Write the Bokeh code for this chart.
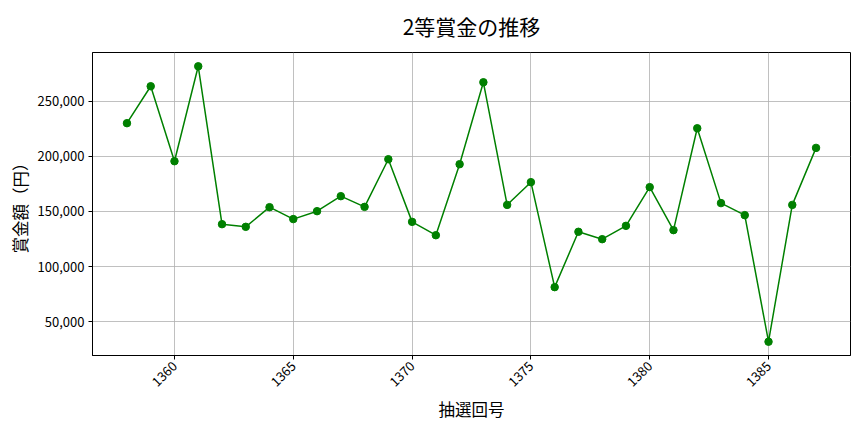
import math
from bokeh.plotting import figure
from bokeh.models import ColumnDataSource, NumeralTickFormatter, FixedTicker, Range1d
from bokeh.embed import file_html
from bokeh.resources import INLINE

draws = list(range(1358, 1388))
prizes = [230100, 263600, 195600, 281700, 138500, 136100, 153900, 143100, 150300, 163900,
          154200, 197400, 140600, 128500, 192900, 267200, 156000, 176600, 81400, 131600,
          124900, 137000, 172100, 133100, 225500, 157600, 146700, 31900, 156000, 207700]
x_ticks = [1360, 1365, 1370, 1375, 1380, 1385]
y_ticks = [50000, 100000, 150000, 200000, 250000]

FONT = "Noto Sans CJK JP"

src = ColumnDataSource(dict(x=draws, y=prizes))

p = figure(width=856, height=424, output_backend="svg", toolbar_location=None,
           title="2等賞金の推移",
           x_range=Range1d(1356.55, 1388.45), y_range=Range1d(19400, 294200),
           min_border_left=92, min_border_right=6, min_border_top=51, min_border_bottom=69)

p.line("x", "y", source=src, line_color="green", line_width=1.5)
p.scatter("x", "y", source=src, size=7.5, fill_color="green", line_color="green")

p.title.text_font = FONT
p.title.text_font_size = "21px"
p.title.text_font_style = "normal"
p.title.align = "center"
p.title.text_color = "black"
p.title.offset = 0
p.title.standoff = 20
p.title.vertical_align = "top"

p.outline_line_color = "black"
p.outline_line_width = 1
p.outline_line_alpha = 1

for ax in (p.xaxis[0], p.yaxis[0]):
    ax.axis_line_color = "black"
    ax.major_tick_line_color = "black"
    ax.minor_tick_line_color = None
    ax.major_tick_out = 4
    ax.major_tick_in = 0
    ax.major_label_text_font = FONT
    ax.major_label_text_font_size = "13px"
    ax.major_label_text_color = "black"
    ax.major_label_standoff = 4
    ax.axis_label_text_font = FONT
    ax.axis_label_text_font_size = "16.5px"
    ax.axis_label_text_font_style = "normal"
    ax.axis_label_text_color = "black"

p.xaxis.ticker = FixedTicker(ticks=x_ticks)
p.yaxis.ticker = FixedTicker(ticks=y_ticks)
p.yaxis.formatter = NumeralTickFormatter(format="0,0")
p.xaxis.major_label_orientation = math.pi / 4
p.xaxis.major_label_standoff = 4
p.xaxis.axis_label = "抽選回号"
p.yaxis.axis_label = "賞金額（円）"
p.xaxis.axis_label_standoff = 3
p.yaxis.axis_label_standoff = 3

p.grid.grid_line_color = "#b0b0b0"
p.grid.grid_line_width = 0.8

open("out.html", "w").write(file_html(p, INLINE))
